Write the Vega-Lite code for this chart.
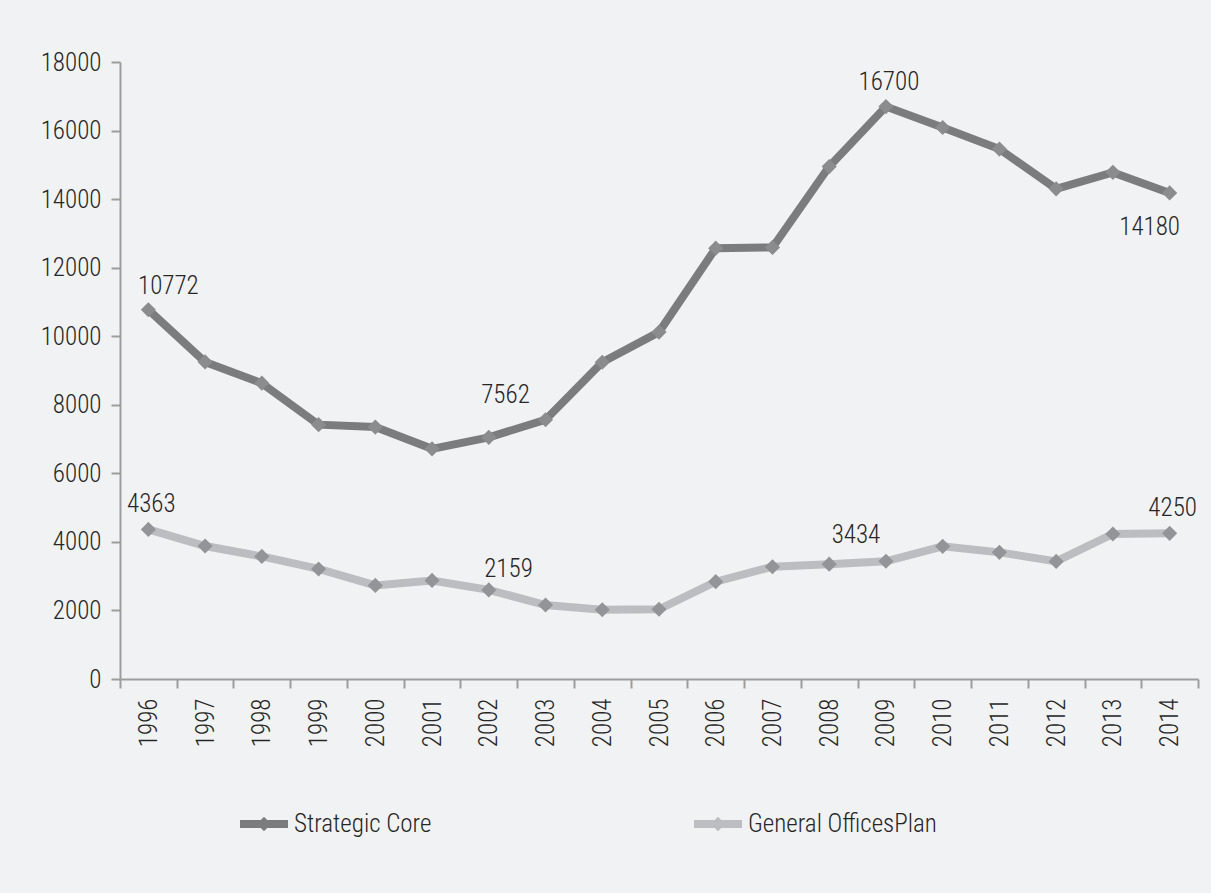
{
  "$schema": "https://vega.github.io/schema/vega-lite/v6.json",
  "width": 1078,
  "height": 617,
  "autosize": "none",
  "padding": {"left": 120, "top": 62, "right": 13, "bottom": 214},
  "background": "#f1f2f4",
  "config": {
    "view": {"stroke": null},
    "font": "Roboto Condensed, DejaVu Sans Condensed, Liberation Sans",
    "text": {"fontWeight": 300},
    "axis": {
      "domainColor": "#9d9d9d",
      "domainWidth": 2,
      "tickColor": "#9d9d9d",
      "tickWidth": 2,
      "tickSize": 9,
      "labelFont": "Roboto Condensed, DejaVu Sans Condensed, Liberation Sans",
      "labelFontSize": 25,
      "labelFontWeight": 300,
      "labelColor": "#262626",
      "labelPadding": 10,
      "grid": false,
      "title": null
    }
  },
  "data": {
    "values": [
      {"year": "1996", "series": "Strategic Core", "value": 10772},
      {"year": "1997", "series": "Strategic Core", "value": 9250},
      {"year": "1998", "series": "Strategic Core", "value": 8630},
      {"year": "1999", "series": "Strategic Core", "value": 7420},
      {"year": "2000", "series": "Strategic Core", "value": 7350},
      {"year": "2001", "series": "Strategic Core", "value": 6715},
      {"year": "2002", "series": "Strategic Core", "value": 7050},
      {"year": "2003", "series": "Strategic Core", "value": 7562},
      {"year": "2004", "series": "Strategic Core", "value": 9240},
      {"year": "2005", "series": "Strategic Core", "value": 10120},
      {"year": "2006", "series": "Strategic Core", "value": 12570},
      {"year": "2007", "series": "Strategic Core", "value": 12590},
      {"year": "2008", "series": "Strategic Core", "value": 14950},
      {"year": "2009", "series": "Strategic Core", "value": 16700},
      {"year": "2010", "series": "Strategic Core", "value": 16090},
      {"year": "2011", "series": "Strategic Core", "value": 15460},
      {"year": "2012", "series": "Strategic Core", "value": 14300},
      {"year": "2013", "series": "Strategic Core", "value": 14780},
      {"year": "2014", "series": "Strategic Core", "value": 14180},
      {"year": "1996", "series": "General OfficesPlan", "value": 4363},
      {"year": "1997", "series": "General OfficesPlan", "value": 3880},
      {"year": "1998", "series": "General OfficesPlan", "value": 3575},
      {"year": "1999", "series": "General OfficesPlan", "value": 3210},
      {"year": "2000", "series": "General OfficesPlan", "value": 2730},
      {"year": "2001", "series": "General OfficesPlan", "value": 2875},
      {"year": "2002", "series": "General OfficesPlan", "value": 2600},
      {"year": "2003", "series": "General OfficesPlan", "value": 2159},
      {"year": "2004", "series": "General OfficesPlan", "value": 2020},
      {"year": "2005", "series": "General OfficesPlan", "value": 2035},
      {"year": "2006", "series": "General OfficesPlan", "value": 2840},
      {"year": "2007", "series": "General OfficesPlan", "value": 3275},
      {"year": "2008", "series": "General OfficesPlan", "value": 3350},
      {"year": "2009", "series": "General OfficesPlan", "value": 3434},
      {"year": "2010", "series": "General OfficesPlan", "value": 3870},
      {"year": "2011", "series": "General OfficesPlan", "value": 3695},
      {"year": "2012", "series": "General OfficesPlan", "value": 3430},
      {"year": "2013", "series": "General OfficesPlan", "value": 4230},
      {"year": "2014", "series": "General OfficesPlan", "value": 4250}
    ]
  },
  "encoding": {
    "x": {
      "field": "year",
      "type": "ordinal",
      "scale": {"type": "band", "paddingInner": 0, "paddingOuter": 0},
      "axis": {"labelAngle": -90, "tickBand": "extent"}
    },
    "y": {
      "field": "value",
      "type": "quantitative",
      "scale": {"domain": [0, 18000], "nice": false},
      "axis": {"values": [0, 2000, 4000, 6000, 8000, 10000, 12000, 14000, 16000, 18000], "format": "d"}
    }
  },
  "layer": [
    {
      "mark": {"type": "line", "strokeWidth": 8},
      "encoding": {
        "stroke": {
          "field": "series",
          "type": "nominal",
          "scale": {"domain": ["Strategic Core", "General OfficesPlan"], "range": ["#7b7c7e", "#bcbdc0"]},
          "legend": {
            "orient": "none",
            "legendX": 120,
            "legendY": 738,
            "direction": "horizontal",
            "columns": 2,
            "gridAlign": "each",
            "columnPadding": 262,
            "title": null,
            "symbolType": "M-1,-0.17L1,-0.17L1,0.17L-1,0.17Z M0,-0.3L0.3,0L0,0.3L-0.3,0Z",
            "symbolSize": 2304,
            "symbolStrokeWidth": 0,
            "labelFont": "Roboto Condensed, DejaVu Sans Condensed, Liberation Sans",
            "labelFontSize": 25,
            "labelFontWeight": 300,
            "labelLimit": 400,
            "labelColor": "#262626",
            "labelOffset": 6,
            "encode": {
              "symbols": {
                "update": {
                  "fill": {"scale": "stroke", "field": "value"},
                  "strokeWidth": {"value": 0}
                }
              }
            }
          }
        }
      }
    },
    {
      "mark": {"type": "point", "shape": "diamond", "filled": true, "size": 230, "opacity": 1},
      "encoding": {
        "fill": {
          "condition": {"test": "datum.series == 'Strategic Core'", "value": "#8b8c8e"},
          "value": "#939497"
        }
      }
    },
    {
      "transform": [{"filter": "(datum.series == 'Strategic Core' && datum.year == '2009') || (datum.series == 'General OfficesPlan' && (datum.year == '1996' || datum.year == '2014'))"}],
      "mark": {"type": "text", "fontSize": 25, "color": "#262626", "align": "center", "baseline": "middle", "dx": 3, "dy": -25},
      "encoding": {"text": {"field": "value", "type": "quantitative", "format": "d"}}
    },
    {
      "transform": [{"filter": "datum.series == 'Strategic Core' && datum.year == '1996'"}],
      "mark": {"type": "text", "fontSize": 25, "color": "#262626", "align": "center", "baseline": "middle", "dx": 20, "dy": -24},
      "encoding": {"text": {"field": "value", "type": "quantitative", "format": "d"}}
    },
    {
      "transform": [{"filter": "datum.series == 'Strategic Core' && datum.year == '2003'"}],
      "mark": {"type": "text", "fontSize": 25, "color": "#262626", "align": "center", "baseline": "middle", "dx": -40, "dy": -25},
      "encoding": {"text": {"field": "value", "type": "quantitative", "format": "d"}}
    },
    {
      "transform": [{"filter": "datum.series == 'General OfficesPlan' && datum.year == '2003'"}],
      "mark": {"type": "text", "fontSize": 25, "color": "#262626", "align": "center", "baseline": "middle", "dx": -37, "dy": -36},
      "encoding": {"text": {"field": "value", "type": "quantitative", "format": "d"}}
    },
    {
      "transform": [{"filter": "datum.series == 'General OfficesPlan' && datum.year == '2009'"}],
      "mark": {"type": "text", "fontSize": 25, "color": "#262626", "align": "center", "baseline": "middle", "dx": -30, "dy": -26},
      "encoding": {"text": {"field": "value", "type": "quantitative", "format": "d"}}
    },
    {
      "transform": [{"filter": "datum.series == 'Strategic Core' && datum.year == '2014'"}],
      "mark": {"type": "text", "fontSize": 25, "color": "#262626", "align": "center", "baseline": "middle", "dx": -20, "dy": 34},
      "encoding": {"text": {"field": "value", "type": "quantitative", "format": "d"}}
    }
  ]
}
